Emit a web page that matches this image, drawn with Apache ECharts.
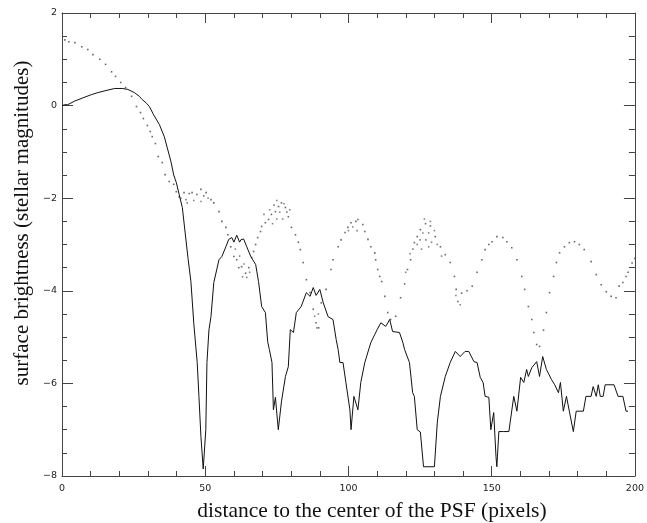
<!DOCTYPE html>
<html>
<head>
<meta charset="utf-8">
<script src="https://cdn.jsdelivr.net/npm/echarts@6/dist/echarts.min.js"></script>
<style>html,body{margin:0;padding:0;background:#fff;}#c{width:647px;height:523px;}</style>
</head>
<body>
<div id="c"></div>
<script>
// x-axis tick labels and y-axis tick labels
const xTicks = [0, 50, 100, 150, 200];
const yTicks = [2, 0, -2, -4, -6, -8];
const xTitle = 'distance to the center of the PSF (pixels)';
const yTitle = 'surface brightness (stellar magnitudes)';

// solid curve: [distance, surface brightness]
const solidCurve = [
[0,0.0],[1,0.02],[2,0.02],[4.5,0.1],[7,0.16],[8.7,0.2],[10.4,0.24],[12.5,0.28],[15,0.32],[18.4,0.37],[21,0.37],[23,0.35],[25.3,0.28],[27,0.2],[28,0.13],[29.5,0.05],[30.5,-0.02],[32,-0.2],[34,-0.41],[35.7,-0.67],[36.7,-0.9],[38,-1.2],[39,-1.5],[39.9,-1.66],[40.9,-1.92],[42,-2.2],[43,-2.75],[44,-3.3],[45,-3.8],[46,-4.7],[47.2,-5.55],[47.8,-6.28],[48.5,-7.15],[49.3,-7.85],[50.2,-7.0],[50.6,-5.55],[51.3,-4.84],[52,-4.56],[53,-3.82],[54.8,-3.33],[55.8,-3.26],[57.2,-3.05],[58.2,-2.89],[59.3,-2.85],[60,-2.95],[61,-2.8],[62,-2.95],[62.4,-2.9],[63.4,-2.88],[64.5,-3.05],[65.9,-3.26],[67.6,-3.43],[68.6,-3.8],[69.7,-4.34],[71,-4.47],[71.8,-5.1],[72.4,-5.27],[73.3,-5.55],[73.8,-6.57],[74.5,-6.3],[75.5,-7.0],[76.6,-6.4],[78,-5.85],[79,-5.64],[79.7,-4.84],[80.8,-4.9],[81.8,-4.47],[83.5,-4.34],[85.3,-4.04],[86.6,-4.12],[87.7,-3.93],[88.7,-4.1],[90,-3.97],[91.2,-4.26],[92.9,-4.56],[94.6,-4.62],[95.7,-5.05],[96.4,-5.27],[97,-5.55],[98.1,-5.55],[99.1,-5.98],[100.5,-6.57],[100.9,-7.0],[101.9,-6.28],[103.3,-6.57],[104.3,-5.98],[105.7,-5.55],[107.8,-5.12],[110,-4.84],[111.3,-4.69],[113,-4.77],[114.4,-4.62],[115.4,-4.88],[117.8,-4.9],[119,-5.12],[119.6,-5.27],[121.3,-5.55],[122.4,-6.2],[123,-6.28],[124,-7.0],[125.1,-7.05],[126.2,-7.8],[130,-7.8],[131,-6.85],[132.1,-6.28],[133.8,-5.85],[135.5,-5.55],[137.3,-5.31],[139,-5.42],[140.7,-5.31],[142,-5.31],[143.8,-5.53],[144.9,-5.55],[146,-5.87],[147,-5.98],[147.7,-6.28],[149,-6.3],[149.7,-7.0],[150.7,-6.63],[151.5,-7.58],[151.8,-7.8],[152.5,-7.04],[154.2,-7.04],[156,-7.04],[157.7,-6.28],[158.8,-6.6],[160.1,-5.87],[161.2,-5.98],[162.2,-5.7],[162.8,-5.85],[164,-5.66],[165.7,-5.53],[166.7,-5.85],[167.8,-5.42],[169.1,-5.7],[170.9,-5.92],[172,-6.03],[173.3,-6.2],[174,-5.98],[175,-6.6],[176.1,-6.28],[177.1,-6.6],[178.5,-7.04],[179.5,-6.6],[182,-6.6],[182.9,-6.28],[184.7,-6.28],[185.4,-6.07],[186.5,-6.28],[187.2,-6.03],[187.9,-6.28],[188.9,-6.28],[189.6,-6.03],[192.7,-6.03],[194.1,-6.28],[195.8,-6.28],[196.9,-6.6],[197.6,-6.6]
];

// dotted curve: [distance, surface brightness]
const dottedCurve = [
[1,1.42],[2.4,1.38],[4.5,1.36],[6.9,1.27],[9,1.21],[10.8,1.1],[13.2,1.0],[15.2,0.89],[17.3,0.73],[18.7,0.63],[20.5,0.5],[22.2,0.39],[24.3,0.2],[26,-0.02],[27.4,-0.15],[28.4,-0.28],[29.8,-0.43],[30.8,-0.56],[31.5,-0.67],[32.6,-0.82],[33.6,-1.1],[35,-1.23],[36,-1.49],[37.4,-1.64],[39,-1.7],[39.9,-1.86],[40.9,-1.97],
[42.6,-1.88],[44.4,-1.9],[45.4,-1.88],[47.1,-1.92],[48.5,-1.81],[50.3,-1.88],[52,-2.03],[53,-2.1],[54.8,-2.29],[55.8,-2.5],[57.2,-2.63],[57.9,-2.79],[58.9,-3.05],[60,-3.26],[61,-3.33],[61.7,-3.5],[62.7,-3.48],[64.1,-3.62],[65.2,-3.5],[66.2,-3.28],[66.9,-3.15],[67.6,-3.0],[68.3,-2.85],[69.3,-2.72],[69.7,-2.61],[71,-2.53],[72.1,-2.46],[73.1,-2.35],[74.5,-2.29],[75.6,-2.18],[76.6,-2.1],[78,-2.2],[79,-2.4],[80.1,-2.63],[81.5,-2.79],
[82.5,-2.95],[83.2,-3.11],[84.2,-3.39],[85.3,-3.76],[86.6,-4.04],[87.7,-4.4],[88.7,-4.69],[89.6,-4.8],[90.5,-4.26],[92.2,-3.97],[93.9,-3.54],[94.6,-3.33],[96.4,-3.05],[97.4,-2.9],[98.8,-2.74],[99.8,-2.63],[100.9,-2.53],[102.6,-2.5],[103.3,-2.46],[105,-2.57],[105.7,-2.72],[106.8,-2.89],[107.8,-3.05],[109.2,-3.18],[109.5,-3.33],[110.2,-3.54],[110.9,-3.69],[111.6,-3.8],[112.7,-4.12],[113.7,-4.47],[114.7,-4.62],[116.5,-4.55],[118.2,-4.15],[119.6,-3.85],[120.6,-3.54],[121.7,-3.33],[123,-2.96],[124,-2.83],[125.1,-2.68],[126.9,-2.55],[128.6,-2.6],[130.3,-2.83],[132.1,-3.05],[133.8,-3.22],[135.5,-3.39],[137,-3.69],[137.6,-3.97],[138.2,-4.23],[139.5,-4.05],[141.4,-4.0],[143.2,-3.9],[144.9,-3.6],[146.6,-3.33],[147.7,-3.11],[149,-3.0],[150.1,-2.94],[151.8,-2.83],[153.9,-2.85],[155.3,-2.94],[157,-3.07],[158.8,-3.33],[160.5,-3.69],[161.5,-3.97],[162.8,-4.34],[164,-4.62],[164.7,-4.9],[165.7,-5.16],[166.7,-5.2],[168.1,-4.85],[169.1,-4.47],[170.2,-4.04],[171.6,-3.69],[172.6,-3.39],[173.7,-3.18],[175.4,-3.05],[177.1,-2.96],[178.9,-2.94],[180.6,-3.0],[182.3,-3.11],[184.7,-3.37],[186.5,-3.65],[188.2,-3.87],[190,-4.02],[191.7,-4.12],[193.4,-4.15],[194.5,-3.9],[195.8,-3.82],[196.9,-3.69],[197.6,-3.6],[199,-3.4],[200,-3.3]
];

// extra scattered dots around the noisy peaks of the dotted curve
const dottedScatter = [
[41.5,-2.0],[43.3,-2.03],[43.7,-2.1],[46,-2.05],[48.5,-2.07],[49.5,-1.95],[51,-2.0],[60.5,-3.1],[62,-3.25],[63.5,-3.42],[64.5,-3.71],[65.5,-3.6],[63,-3.7],[70.5,-2.35],[72.5,-2.25],[73.5,-2.55],[75,-2.45],[76,-2.3],[77,-2.45],[78.5,-2.3],[74,-2.15],[77.5,-2.12],[75,-2.05],[79.5,-2.25],[88.2,-4.55],[89.5,-4.5],[89,-4.8],[100,-2.7],[101.5,-2.62],[103,-2.7],[121.5,-3.2],[122.5,-3.1],[124,-3.0],[125,-2.9],[126,-2.75],[127,-2.9],[128,-2.75],[129,-2.95],[130,-2.7],[131,-3.0],[125.5,-3.1],[128,-3.05],[132.5,-3.25],[126.5,-2.45],[128.6,-2.5],[120,-3.6],[137.5,-4.1],[139,-4.3]
];

const fmt = v => (v < 0 ? '\u2212' + Math.abs(v) : String(v));
const chart = echarts.init(document.getElementById('c'), null, {renderer: 'canvas'});
const axisLine = {show: true, onZero: false, lineStyle: {color: '#444', width: 1}};
const labelFont = {fontFamily: 'DejaVu Sans', fontSize: 9.5, color: '#222'};
const tickStyle = {color: '#444', width: 1};
chart.setOption({
  animation: false,
  backgroundColor: '#fff',
  grid: {left: 62, right: 8, top: 13, bottom: 47, containLabel: false},
  xAxis: [
    {type: 'value', min: xTicks[0], max: xTicks[xTicks.length - 1], interval: 50, position: 'bottom',
     axisLine, axisTick: {inside: true, length: 10, lineStyle: tickStyle},
     minorTick: {show: true, splitNumber: 5, length: 5, lineStyle: tickStyle},
     splitLine: {show: false},
     axisLabel: Object.assign({margin: 8, formatter: fmt}, labelFont)},
    {type: 'value', min: xTicks[0], max: xTicks[xTicks.length - 1], interval: 50, position: 'top',
     axisLine, axisTick: {inside: true, length: 10, lineStyle: tickStyle},
     minorTick: {show: true, splitNumber: 5, length: 5, lineStyle: tickStyle},
     splitLine: {show: false}, axisLabel: {show: false}}
  ],
  yAxis: [
    {type: 'value', min: yTicks[yTicks.length - 1], max: yTicks[0], interval: 2, position: 'left',
     axisLine, axisTick: {inside: true, length: 11, lineStyle: tickStyle},
     minorTick: {show: true, splitNumber: 4, length: 5, lineStyle: tickStyle},
     splitLine: {show: false},
     axisLabel: Object.assign({margin: 5, formatter: fmt}, labelFont)},
    {type: 'value', min: yTicks[yTicks.length - 1], max: yTicks[0], interval: 2, position: 'right',
     axisLine, axisTick: {inside: true, length: 11, lineStyle: tickStyle},
     minorTick: {show: true, splitNumber: 4, length: 6, lineStyle: tickStyle},
     splitLine: {show: false}, axisLabel: {show: false}}
  ],
  graphic: [
    {type: 'text', position: [372, 511], style: {text: xTitle, font: '21.5px "Liberation Serif"', fill: '#111', textAlign: 'center', textVerticalAlign: 'middle'}},
    {type: 'text', rotation: Math.PI / 2, position: [22, 223], style: {text: yTitle, font: '21px "Liberation Serif"', fill: '#111', textAlign: 'center', textVerticalAlign: 'middle'}}
  ],
  series: [
    {type: 'line', data: solidCurve, xAxisIndex: 0, yAxisIndex: 0, showSymbol: false, symbol: 'none',
     lineStyle: {color: '#111', width: 1}, clip: true},
    {type: 'scatter', data: dottedCurve, xAxisIndex: 0, yAxisIndex: 0, symbol: 'rect', symbolSize: 1.6,
     itemStyle: {color: '#444'}},
    {type: 'scatter', data: dottedScatter, xAxisIndex: 0, yAxisIndex: 0, symbol: 'rect', symbolSize: 1.6,
     itemStyle: {color: '#666'}}
  ]
});
</script>
</body>
</html>
